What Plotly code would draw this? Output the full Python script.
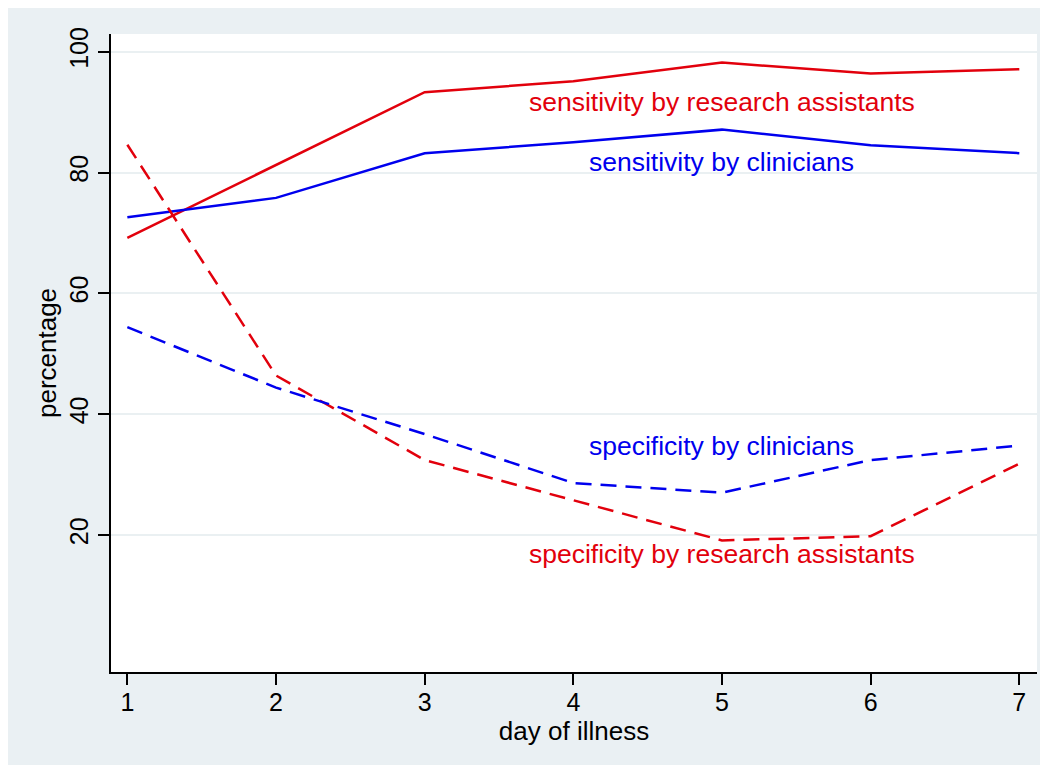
import plotly.graph_objects as go

days = [1, 2, 3, 4, 5, 6, 7]
sens_ra = [69.2, 81.2, 93.3, 95.1, 98.2, 96.4, 97.1]
sens_clin = [72.6, 75.8, 83.2, 85.0, 87.1, 84.5, 83.2]
spec_ra = [84.6, 46.4, 32.4, 25.8, 19.1, 19.8, 31.8]
spec_clin = [54.4, 44.4, 36.7, 28.6, 27.0, 32.4, 34.8]
y_ticks = [20, 40, 60, 80, 100]

RED = "#e2000c"
BLUE = "#0000ee"
GRID = "#eaf0f2"
BG = "#eaf0f3"
FONT = "Liberation Sans, Arial, Helvetica, sans-serif"
DASH = "16px,9px"

fig = go.Figure()
fig.add_trace(go.Scatter(x=days, y=sens_ra, mode="lines", line=dict(color=RED, width=2.5)))
fig.add_trace(go.Scatter(x=days, y=sens_clin, mode="lines", line=dict(color=BLUE, width=2.5)))
fig.add_trace(go.Scatter(x=days, y=spec_ra, mode="lines", line=dict(color=RED, width=2.5, dash=DASH)))
fig.add_trace(go.Scatter(x=days, y=spec_clin, mode="lines", line=dict(color=BLUE, width=2.5, dash=DASH)))

labels = [
    ("sensitivity by research assistants", 5, 91.6, RED),
    ("sensitivity by clinicians", 5, 81.7, BLUE),
    ("specificity by clinicians", 5, 34.7, BLUE),
    ("specificity by research assistants", 5, 16.8, RED),
]
for text, x, y, c in labels:
    fig.add_annotation(x=x, y=y, xref="x", yref="y", text=text, showarrow=False,
                       xanchor="center", yanchor="middle",
                       font=dict(family=FONT, size=26.5, color=c))

fig.update_layout(
    width=1034, height=757,
    margin=dict(l=103, r=5, t=26, b=93),
    paper_bgcolor=BG, plot_bgcolor="white",
    showlegend=False,
    font=dict(family=FONT, size=25, color="black"),
    xaxis=dict(range=[0.890, 7.119], tickvals=days, ticks="outside", ticklen=11, tickwidth=1.5,
               tickcolor="black", showline=True, linecolor="black", linewidth=1.5,
               showgrid=False, zeroline=False, ticklabelstandoff=-4,
               tickfont=dict(size=25),
               title=dict(text="day of illness", font=dict(size=26), standoff=2)),
    yaxis=dict(range=[-2.68, 102.93], tickvals=y_ticks, ticks="outside", ticklen=11, tickwidth=1.5,
               tickcolor="black", showline=True, linecolor="black", linewidth=1.5,
               showgrid=True, gridcolor=GRID, gridwidth=2, zeroline=False,
               tickangle=-90, tickfont=dict(size=25),
               title=dict(text="percentage", font=dict(size=26), standoff=1)),
)

fig.write_html("out.html")
